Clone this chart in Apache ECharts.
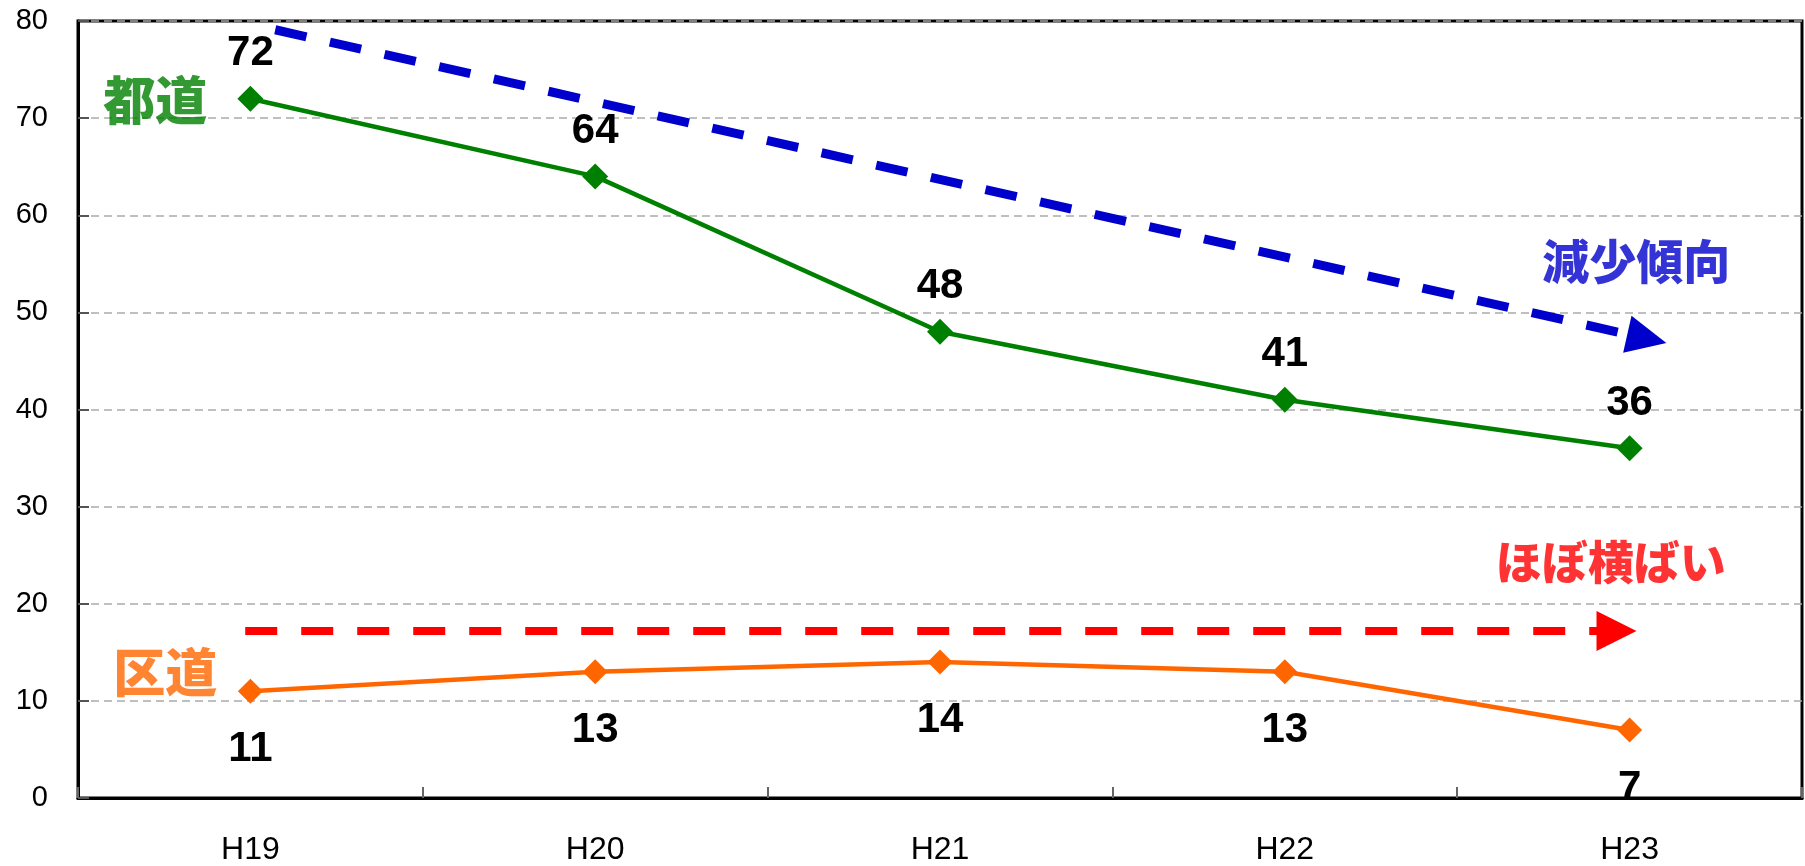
<!DOCTYPE html>
<html>
<head>
<meta charset="utf-8">
<script src="https://cdn.jsdelivr.net/npm/echarts@6/dist/echarts.min.js"></script>
<style>
html,body{margin:0;padding:0;background:#fff;}
#c{width:1805px;height:866px;}
</style>
</head>
<body>
<div id="c"></div>
<script>
// ---- data ----
const categories = ['H19', 'H20', 'H21', 'H22', 'H23'];
const toudouValues = [72, 64, 48, 41, 36];   // 都道
const kudouValues = [11, 13, 14, 13, 7];     // 区道
const yTickMin = 0, yTickMax = 80, yTickStep = 10;

// annotation arrows in data space [categoryIndex, value]
const decreaseArrow = [[0.072, 79.1], [4.050, 47.3]];
const flatArrow = [[-0.015, 17.2], [3.962, 17.2]];
// annotation texts [categoryIndex, value, text]
const seriesNameNotes = [[-0.276, 71.8, '都道'], [-0.247, 13.0, '区道']];
const trendNotes = [[4.019, 55.3, '減少傾向'], [3.945, 24.3, 'ほぼ横ばい']];

const NUM_FONT = '"Liberation Sans", Arial, sans-serif';
const JP_FONT = '"Noto Sans CJK JP", sans-serif';

const chart = echarts.init(document.getElementById('c'));

function arrowSeries(pts, color, width, size) {
  return {
    type: 'line', xAxisIndex: 1, data: [], silent: true,
    markLine: {
      silent: true, animation: false,
      symbol: ['none', 'triangle'], symbolSize: size,
      label: {show: false},
      lineStyle: {color: color, width: width, type: [32, 24], opacity: 1},
      emphasis: {disabled: true},
      data: [[{coord: pts[0]}, {coord: pts[1]}]]
    }
  };
}

chart.setOption({
  animation: false,
  backgroundColor: '#fff',
  grid: {left: 78, right: 3, top: 21, bottom: 67, show: true, borderColor: '#000', borderWidth: 3, backgroundColor: 'transparent'},
  xAxis: [{
    type: 'category', data: categories, boundaryGap: true,
    axisLine: {onZero: false, lineStyle: {color: '#000', width: 3}},
    axisTick: {show: true, inside: true, length: 11, lineStyle: {color: '#666', width: 2}},
    axisLabel: {color: '#000', fontSize: 32, fontFamily: NUM_FONT, margin: 36},
    splitLine: {show: false}
  }, {
    type: 'value', min: -0.5, max: 4.5, show: false,
    axisLine: {show: false, onZero: false}, splitLine: {show: false}
  }],
  yAxis: {
    type: 'value', min: yTickMin, max: yTickMax, interval: yTickStep,
    axisLine: {show: true, onZero: false, lineStyle: {color: '#000', width: 3}},
    axisTick: {show: true, inside: true, length: 11, lineStyle: {color: '#555', width: 2}},
    axisLabel: {color: '#000', fontSize: 29, fontFamily: NUM_FONT, margin: 30},
    splitLine: {show: true, lineStyle: {color: '#aaa', width: 1.5, type: [8, 5]}}
  },
  series: [
    arrowSeries(decreaseArrow, '#0000CC', 9, [38, 40]),
    arrowSeries(flatArrow, '#FF0000', 8, [40, 40]),
    {
      name: '都道', type: 'line', data: toudouValues,
      symbol: 'diamond', symbolSize: 26,
      lineStyle: {color: '#008000', width: 4.5},
      itemStyle: {color: '#008000'},
      label: {show: true, position: 'top', distance: 11, color: '#000', fontSize: 42, fontWeight: 'bold', fontFamily: NUM_FONT},
      emphasis: {disabled: true}
    },
    {
      name: '区道', type: 'line', data: kudouValues,
      symbol: 'diamond', symbolSize: 25,
      lineStyle: {color: '#FF6600', width: 4.5},
      itemStyle: {color: '#FF6600'},
      label: {show: true, position: 'bottom', distance: 25, color: '#000', fontSize: 42, fontWeight: 'bold', fontFamily: NUM_FONT},
      emphasis: {disabled: true}
    },
    {
      type: 'scatter', xAxisIndex: 1, symbolSize: 1, silent: true,
      itemStyle: {color: 'transparent'},
      data: [
        {value: seriesNameNotes[0], label: {color: '#008000', fontSize: 52}},
        {value: seriesNameNotes[1], label: {color: '#FF6600', fontSize: 52}},
        {value: trendNotes[0], label: {color: '#0000CC', fontSize: 47}},
        {value: trendNotes[1], label: {color: '#FF0000', fontSize: 46}}
      ],
      label: {show: true, position: 'inside', fontFamily: JP_FONT, fontWeight: 900,
        formatter: p => p.value[2]},
      emphasis: {disabled: true}
    }
  ]
});
</script>
</body>
</html>
